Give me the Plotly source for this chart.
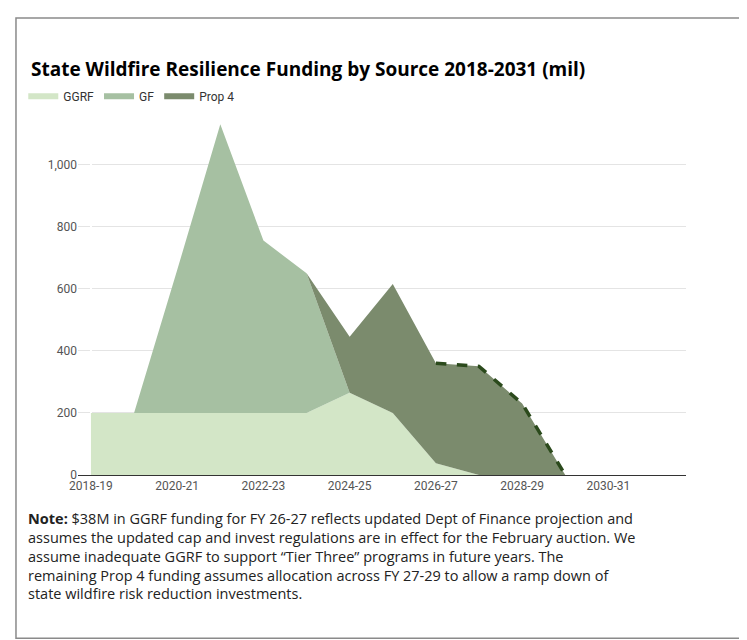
import plotly.graph_objects as go

years = ["2018-19", "2019-20", "2020-21", "2021-22", "2022-23", "2023-24", "2024-25",
         "2025-26", "2026-27", "2027-28", "2028-29", "2029-30", "2030-31", "2031-32"]
ggrf = [200, 200, 200, 200, 200, 200, 265, 200, 38, 0, 0, 0, None, None]
gf = [0, 0, 460, 930, 555, 450, 0, 0, 0, 0, 0, 0, None, None]
prop4 = [0, 0, 0, 0, 0, 0, 180, 415, 322, 350, 230, 0, None, None]

x = list(range(len(years)))
total = [None if g is None else g + f + p for g, f, p in zip(ggrf, gf, prop4)]

fig = go.Figure()
fig.add_trace(go.Scatter(x=x, y=ggrf, name="GGRF", stackgroup="a", mode="none",
                         fillcolor="#d3e6c7"))
fig.add_trace(go.Scatter(x=x, y=gf, name="GF", stackgroup="a", mode="none",
                         fillcolor="#a6c0a2"))
fig.add_trace(go.Scatter(x=x, y=prop4, name="Prop 4", stackgroup="a", mode="none",
                         fillcolor="#7b8b6d"))
# dashed outline over the projected Prop 4 years
fig.add_trace(go.Scatter(x=x[8:12], y=total[8:12], mode="lines", showlegend=False,
                         line=dict(color="#2b4a1c", width=3.5, dash="dash")))

fig.add_shape(type="rect", xref="paper", yref="paper", x0=-0.102, x1=1.102, y0=-0.457, y1=1.28,
              line=dict(color="#8a8a8a", width=1.5))

fig.add_annotation(x=-0.08, y=1.18, xref="paper", yref="paper", showarrow=False,
                   xanchor="left", text="<b>State Wildfire Resilience Funding by Source 2018-2031 (mil)</b>",
                   font=dict(size=19, color="#000000", family="Open Sans"))
fig.add_annotation(x=-0.085, y=-0.09, xref="paper", yref="paper", showarrow=False,
                   xanchor="left", yanchor="top", align="left",
                   text="<b>Note:</b> $38M in GGRF funding for FY 26-27 reflects updated Dept of Finance projection and<br>"
                        "assumes the updated cap and invest regulations are in effect for the February auction. We<br>"
                        "assume inadequate GGRF to support “Tier Three” programs in future years. The<br>"
                        "remaining Prop 4 funding assumes allocation across FY 27-29 to allow a ramp down of<br>"
                        "state wildfire risk reduction investments.",
                   font=dict(size=14.5, color="#222222", family="Open Sans"))

fig.update_layout(
    width=747, height=640,
    margin=dict(l=70, r=69, t=110, b=173),
    plot_bgcolor="white", paper_bgcolor="white",
    font=dict(family="Roboto", color="#555555"),
    showlegend=True,
    legend=dict(orientation="h", x=-0.09, y=1.02, xanchor="left", yanchor="bottom",
                traceorder="normal", font=dict(size=12, color="#333333")),
    xaxis=dict(range=[-0.3, 13.8], tickvals=x[::2], ticktext=years[::2], showgrid=False,
               tickfont=dict(size=12, color="#555555"), showline=True, linecolor="#333333"),
    yaxis=dict(range=[0, 1150], tickvals=[0, 200, 400, 600, 800, 1000], tickformat=",",
               gridcolor="#e4e4e4", tickfont=dict(size=12, color="#555555"), zeroline=False),
)

fig.write_html("out.html")
